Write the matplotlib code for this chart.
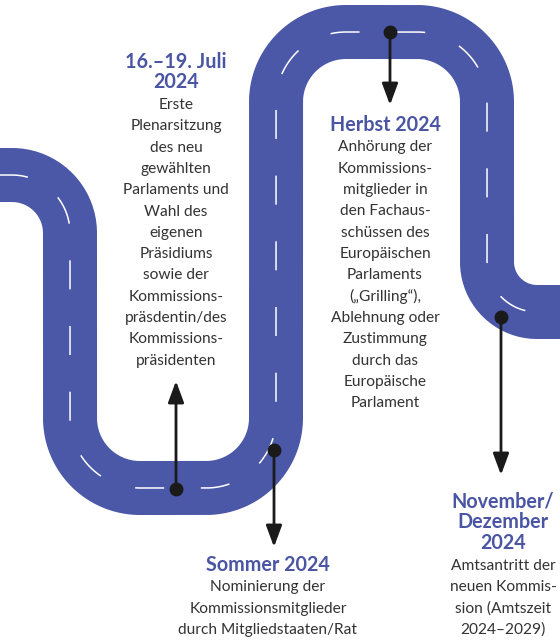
import numpy as np
import matplotlib
matplotlib.use('Agg')
import matplotlib.pyplot as plt

# road centre line: corner points and fillet radii (pixel units)
road_x = [-10, 70, 70, 276, 276, 487, 487, 570]
road_y = [175, 175, 488, 488, 32, 32, 312, 312]
road_r = [0, 58, 70, 70, 70, 70, 50, 0]

# timeline events
titles = [['16.–19. Juli', '2024'], ['Herbst 2024'], ['Sommer 2024'],
          ['November/', 'Dezember', '2024']]
bodies = [
    ['Erste', 'Plenarsitzung', 'des neu', 'gewählten', 'Parlaments und',
     'Wahl des', 'eigenen', 'Präsidiums', 'sowie der', 'Kommissions-',
     'präsdentin/des', 'Kommissions-', 'präsidenten'],
    ['Anhörung der', 'Kommissions-', 'mitglieder in', 'den Fachaus-',
     'schüssen des', 'Europäischen', 'Parlaments', '(„Grilling“),',
     'Ablehnung oder', 'Zustimmung', 'durch das', 'Europäische', 'Parlament'],
    ['Nominierung der', 'Kommissionsmitglieder', 'durch Mitgliedstaaten/Rat'],
    ['Amtsantritt der', 'neuen Kommis-', 'sion (Amtszeit', '2024–2029)'],
]
dot_x = [176, 390, 274, 501]
dot_y = [489, 32, 450, 317]
tip_y = [381, 105, 547, 475]
text_x = [176, 385, 268, 503]
text_y = [62, 125, 565, 502]

ROAD = '#4b57a7'
TITLE = '#4a55a3'
BODY = '#333333'


def road_path(xs, ys, rs):
    pts = [np.array([xs[0], ys[0]], float)]
    for i in range(1, len(xs) - 1):
        a = np.array([xs[i - 1], ys[i - 1]], float)
        p = np.array([xs[i], ys[i]], float)
        b = np.array([xs[i + 1], ys[i + 1]], float)
        r = rs[i]
        d1 = (p - a) / np.linalg.norm(p - a)
        d2 = (b - p) / np.linalg.norm(b - p)
        s = p - d1 * r
        e = p + d2 * r
        c = s + d2 * r
        t0 = np.arctan2(*(s - c)[::-1])
        t1 = np.arctan2(*(e - c)[::-1])
        dt = (t1 - t0 + np.pi) % (2 * np.pi) - np.pi
        t = t0 + np.linspace(0, 1, 40) * dt
        pts.extend(np.c_[c[0] + r * np.cos(t), c[1] + r * np.sin(t)])
    pts.append(np.array([xs[-1], ys[-1]], float))
    return np.array(pts)


fig = plt.figure(figsize=(5.6, 6.4), dpi=100)
ax = fig.add_axes([0, 0, 1, 1])
ax.set_xlim(0, 560)
ax.set_ylim(640, 0)
ax.axis('off')

pts = road_path(road_x, road_y, road_r)
ax.plot(pts[:, 0], pts[:, 1], color=ROAD, lw=54 * 0.72,
        solid_capstyle='butt', solid_joinstyle='round', zorder=1)
ax.plot(pts[:, 0], pts[:, 1], color='white', lw=1.1,
        dashes=(19, 24), dash_capstyle='butt', zorder=2)

for i in range(len(titles)):
    ax.annotate('', xy=(dot_x[i], tip_y[i]), xytext=(dot_x[i], dot_y[i]),
                arrowprops=dict(arrowstyle='-|>,head_length=1.0,head_width=0.37',
                                color='#1a1a1a', lw=2.0, shrinkA=0, shrinkB=0,
                                mutation_scale=13), zorder=3)
    ax.plot(dot_x[i], dot_y[i], 'o', color='#1a1a1a', ms=9, zorder=4)

    y = text_y[i]
    for line in titles[i]:
        ax.text(text_x[i], y, line, ha='center', va='center', color=TITLE,
                fontsize=14.2, fontweight='bold', family='Lato')
        y += 20.5
    y += 2
    for line in bodies[i]:
        ax.text(text_x[i], y, line, ha='center', va='center', color=BODY,
                fontsize=11.2, family='Lato')
        y += 21.3

fig.savefig('out.png', dpi=100)
